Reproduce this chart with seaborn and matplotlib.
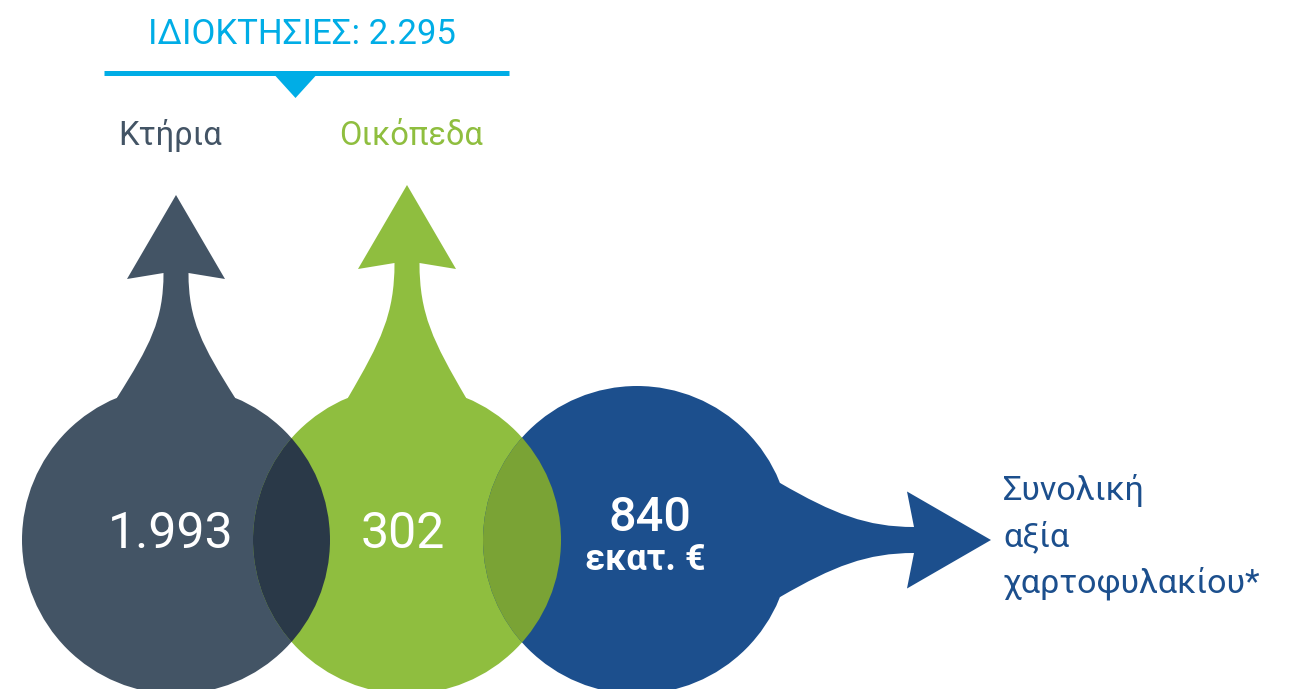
import numpy as np
import matplotlib
matplotlib.use("Agg")
import matplotlib.pyplot as plt
import seaborn as sns
from matplotlib.path import Path
from matplotlib.patches import PathPatch, Circle, Polygon

# ---------------- data ----------------
categories = ["Κτήρια", "Οικόπεδα"]
counts = [1993, 302]
total_label = "ΙΔΙΟΚΤΗΣΙΕΣ"
portfolio_value = 840
portfolio_unit = "εκατ. €"
portfolio_label = ["Συνολική", "αξία", "χαρτοφυλακίου*"]

# ---------------- style ----------------
sns.set_theme(style="white")
plt.rcParams["font.family"] = ["Roboto", "DejaVu Sans"]

palette = sns.color_palette(["#435465", "#8fbe3f", "#1c4f8d"])
lens_colors = ["#2a3948", "#7aa335"]
cyan = "#00ade6"

def fmt(v):
    return f"{v:,}".replace(",", ".")

W, H = 1291, 689
fig = plt.figure(figsize=(W / 100, H / 100), dpi=100)
ax = fig.add_axes([0, 0, 1, 1])
ax.set_xlim(0, W)
ax.set_ylim(H, 0)
ax.set_aspect("equal")
ax.axis("off")

R = 154
CY = 540
centers = [176, 407, 637]
tips = [195, 185]

def up_arrow(cx, tip):
    sh_dx = 59
    sh_y = CY - np.sqrt(R**2 - sh_dx**2)
    st = tip + 78
    L = sh_y - st
    verts = [
        (cx, tip),
        (cx + 49, tip + 84),
        (cx + 12.5, st),
        (cx + 12.5, st + 0.38 * L), (cx + 26, st + 0.58 * L), (cx + sh_dx, sh_y),
        (cx + sh_dx, CY),
        (cx - sh_dx, CY),
        (cx - sh_dx, sh_y),
        (cx - 26, st + 0.58 * L), (cx - 12.5, st + 0.38 * L), (cx - 12.5, st),
        (cx - 49, tip + 84),
        (cx, tip),
    ]
    codes = [Path.MOVETO, Path.LINETO, Path.LINETO,
             Path.CURVE4, Path.CURVE4, Path.CURVE4,
             Path.LINETO, Path.LINETO, Path.LINETO,
             Path.CURVE4, Path.CURVE4, Path.CURVE4,
             Path.LINETO, Path.CLOSEPOLY]
    return Path(verts, codes)

def right_arrow(cx, tip_x):
    sh_dy = 57
    sh_x = cx + np.sqrt(R**2 - sh_dy**2)
    st = tip_x - 77
    L = st - sh_x
    verts = [
        (tip_x, CY),
        (tip_x - 84, CY + 48.5),
        (st, CY + 13),
        (st - 0.35 * L, CY + 13), (st - 0.6 * L, CY + 26), (sh_x, CY + sh_dy),
        (cx, CY + sh_dy),
        (cx, CY - sh_dy),
        (sh_x, CY - sh_dy),
        (st - 0.6 * L, CY - 26), (st - 0.35 * L, CY - 13), (st, CY - 13),
        (tip_x - 84, CY - 48.5),
        (tip_x, CY),
    ]
    codes = [Path.MOVETO, Path.LINETO, Path.LINETO,
             Path.CURVE4, Path.CURVE4, Path.CURVE4,
             Path.LINETO, Path.LINETO, Path.LINETO,
             Path.CURVE4, Path.CURVE4, Path.CURVE4,
             Path.LINETO, Path.CLOSEPOLY]
    return Path(verts, codes)

circles = []
for i, cx in enumerate(centers):
    c = Circle((cx, CY), R, facecolor=palette[i], edgecolor="none", zorder=2)
    ax.add_patch(c)
    circles.append(c)
for i in range(2):
    ax.add_patch(PathPatch(up_arrow(centers[i], tips[i]), facecolor=palette[i],
                           edgecolor="none", zorder=2))
ax.add_patch(PathPatch(right_arrow(centers[2], 991), facecolor=palette[2],
                       edgecolor="none", zorder=2))

# lenses
for i in range(2):
    lens = Circle((centers[i + 1], CY), R, facecolor=lens_colors[i], edgecolor="none", zorder=3)
    ax.add_patch(lens)
    lens.set_clip_path(circles[i])

# header
ax.plot([104, 509], [72.5, 72.5], color=cyan, lw=3.6, solid_capstyle="butt", zorder=4)
ax.add_patch(Polygon([(271, 71), (320, 71), (295.5, 98)], closed=True,
                     facecolor=cyan, edgecolor="none", zorder=4))
ax.text(302, 44, f"{total_label}: {fmt(sum(counts))}", color=cyan, fontsize=25,
        fontweight="normal", ha="center", va="baseline", zorder=5)

# category labels
label_x = [170, 411]
for i, name in enumerate(categories):
    ax.text(label_x[i], 145, name, color=palette[i], fontsize=23.5, fontweight="normal",
            ha="center", va="baseline", zorder=5)

# values in circles
val_x = [171, 403]
for i, v in enumerate(counts):
    ax.text(val_x[i], 548, fmt(v), color="white", fontsize=36, ha="center",
            va="baseline", zorder=5)

ax.text(650, 531, f"{portfolio_value}", color="white", fontsize=35, fontweight="medium",
        ha="center", va="baseline", zorder=5)
ax.text(645, 570, portfolio_unit, color="white", fontsize=26, fontweight="bold",
        ha="center", va="baseline", zorder=5)

for j, line in enumerate(portfolio_label):
    ax.text(1003, 500 + j * 46, line, color=palette[2], fontsize=24.5, fontweight="normal",
            ha="left", va="baseline", zorder=5)

fig.savefig("out.png", dpi=100, facecolor="white")
